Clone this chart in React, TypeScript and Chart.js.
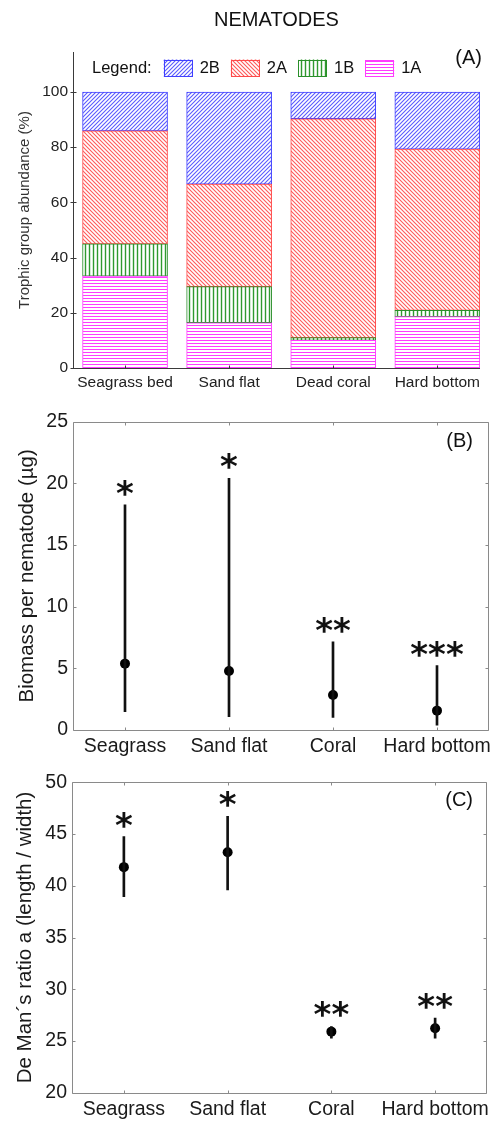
import React, { useEffect, useRef } from "react";
import { Chart, registerables } from "chart.js";

Chart.register(...registerables);

const FONT = "'Liberation Sans', Arial, Helvetica, sans-serif";
const STAR_FONT = "bold 34px 'DejaVu Sans', sans-serif";

// ---------- Panel A data ----------
const habitatsA = ["Seagrass bed", "Sand flat", "Dead coral", "Hard bottom"];
const group1A = [33.3, 16.4, 10.0, 18.6];
const group1B = [11.7, 13.1, 1.0, 2.3];
const group2A = [40.9, 37.1, 79.3, 58.4];
const group2B = [14.1, 33.4, 9.7, 20.7];
const percentTicks = [0, 20, 40, 60, 80, 100];

// ---------- Panel B data ----------
const habitatsBC = ["Seagrass", "Sand flat", "Coral", "Hard bottom"];
const biomassMean = [5.38, 4.78, 2.84, 1.57];
const biomassLow = [1.49, 1.08, 1.03, 0.4];
const biomassHigh = [18.25, 20.4, 7.14, 5.22];
const biomassStars = ["*", "*", "**", "***"];

// ---------- Panel C data ----------
const ratioMean = [41.8, 43.24, 25.9, 26.23];
const ratioLow = [38.95, 39.6, 25.26, 25.26];
const ratioHigh = [44.75, 46.7, 26.4, 27.2];
const ratioStars = ["*", "*", "**", "**"];

function makePattern(kind: string, color: string): CanvasPattern | string {
  const c = document.createElement("canvas");
  let w = 4, h = 4;
  if (kind === "h") { w = 4; h = 3; }
  c.width = w; c.height = h;
  const g = c.getContext("2d");
  if (!g) return color;
  g.fillStyle = "#ffffff";
  g.fillRect(0, 0, w, h);
  g.strokeStyle = color;
  g.beginPath();
  if (kind === "fwd") {
    g.lineWidth = 1.1;
    g.moveTo(-1, 5); g.lineTo(5, -1);
    g.moveTo(-1, 1); g.lineTo(1, -1);
    g.moveTo(3, 5); g.lineTo(5, 3);
  } else if (kind === "back") {
    g.lineWidth = 1.1;
    g.moveTo(-1, -1); g.lineTo(5, 5);
    g.moveTo(3, -1); g.lineTo(5, 1);
    g.moveTo(-1, 3); g.lineTo(1, 5);
  } else if (kind === "v") {
    g.lineWidth = 1.4;
    g.moveTo(1.5, 0); g.lineTo(1.5, h);
  } else {
    g.lineWidth = 1;
    g.moveTo(0, 1.5); g.lineTo(w, 1.5);
  }
  g.stroke();
  return g.createPattern(c, "repeat") || color;
}

const noScalePadding = (s: any, w?: number, h?: number) => {
  if (w !== undefined) s.width = w;
  if (h !== undefined) s.height = h;
  s.paddingLeft = 0;
  s.paddingRight = 0;
  s.paddingTop = 0;
  s.paddingBottom = 0;
};

const panelAPlugin = {
  id: "panelA",
  afterDraw(chart: any) {
    const { ctx, chartArea: a, scales } = chart;
    const left = Math.round(a.left) + 0.5;
    const bottom = Math.round(a.bottom) + 0.5;
    ctx.save();
    ctx.strokeStyle = "#3a3a3a";
    ctx.lineWidth = 1;
    ctx.beginPath();
    ctx.moveTo(left, a.top);
    ctx.lineTo(left, bottom);
    ctx.lineTo(a.right, bottom);
    scales.y.ticks.forEach((t: any) => {
      const py = Math.round(scales.y.getPixelForValue(t.value)) + 0.5;
      ctx.moveTo(left - 3, py);
      ctx.lineTo(left + 3, py);
    });
    scales.x.ticks.forEach((t: any) => {
      const px = Math.round(scales.x.getPixelForValue(t.value)) + 0.5;
      ctx.moveTo(px, bottom);
      ctx.lineTo(px, bottom - 3);
    });
    ctx.stroke();

    ctx.fillStyle = "#111";
    ctx.font = `20px ${FONT}`;
    ctx.textAlign = "center";
    ctx.textBaseline = "middle";
    ctx.fillText("NEMATODES", (a.left + a.right) / 2, 20);

    ctx.font = `20px ${FONT}`;
    ctx.textAlign = "right";
    ctx.fillText("(A)", a.right + 2, a.top + 6);

    ctx.font = `16.5px ${FONT}`;
    ctx.textAlign = "left";
    const cy = a.top + 16;
    let x = a.left + 19;
    ctx.fillText("Legend:", x, cy);
    x += ctx.measureText("Legend:").width + 12;
    const ds = chart.data.datasets;
    for (let i = ds.length - 1; i >= 0; i--) {
      const d = ds[i];
      ctx.fillStyle = d.backgroundColor;
      ctx.fillRect(x, cy - 8.5, 29, 17);
      ctx.strokeStyle = d.borderColor;
      ctx.lineWidth = 1;
      ctx.strokeRect(Math.round(x) + 0.5, Math.round(cy - 8.5) + 0.5, 28, 16);
      x += 29 + 7;
      ctx.fillStyle = "#111";
      ctx.fillText(d.label, x, cy);
      x += ctx.measureText(d.label).width + 11;
    }
    ctx.restore();
  },
};

function makeBoxPlugin(id: string, label: string, stars: string[], highs: number[], means: number[], labelDx: number, labelDy: number) {
  return {
    id,
    afterDraw(chart: any) {
      const { ctx, chartArea: a, scales } = chart;
      const l = Math.round(a.left) + 0.5;
      const r = Math.round(a.right) - 0.5;
      const t = Math.round(a.top) + 0.5;
      const b = Math.round(a.bottom) + 0.5;
      ctx.save();
      ctx.strokeStyle = "#8a8a8a";
      ctx.lineWidth = 1;
      ctx.beginPath();
      ctx.rect(l, t, r - l, b - t);
      scales.y.ticks.forEach((tk: any) => {
        const py = Math.round(scales.y.getPixelForValue(tk.value)) + 0.5;
        ctx.moveTo(l, py); ctx.lineTo(l + 3, py);
        ctx.moveTo(r, py); ctx.lineTo(r - 3, py);
      });
      scales.x.ticks.forEach((tk: any) => {
        const px = Math.round(scales.x.getPixelForValue(tk.value)) + 0.5;
        ctx.moveTo(px, b); ctx.lineTo(px, b - 3);
        ctx.moveTo(px, t); ctx.lineTo(px, t + 3);
      });
      ctx.stroke();

      ctx.fillStyle = "#111";
      ctx.font = `20px ${FONT}`;
      ctx.textAlign = "right";
      ctx.textBaseline = "middle";
      ctx.fillText(label, a.right - labelDx, a.top + labelDy);

      ctx.font = STAR_FONT;
      ctx.textAlign = "center";
      ctx.textBaseline = "alphabetic";
      stars.forEach((s, i) => {
        const px = scales.x.getPixelForValue(i + 1);
        const top = Math.min(scales.y.getPixelForValue(highs[i]), scales.y.getPixelForValue(means[i]) - 5);
        const cyStar = top - 17;
        const m = ctx.measureText(s);
        const base = cyStar + (m.actualBoundingBoxAscent - m.actualBoundingBoxDescent) / 2;
        ctx.fillText(s, px, base);
      });
      ctx.restore();
    },
  };
}

function chartA(canvas: HTMLCanvasElement) {
  const H = 395;
  const area = { left: 73, right: 480, top: 52, bottom: 368 };
  const mk = (label: string, vals: number[], pattern: any, border: string) => ({
    label,
    data: vals.map((v, i) => ({ x: i + 1, y: v })),
    backgroundColor: pattern,
    borderColor: border,
    borderWidth: 1,
    borderSkipped: false,
    barThickness: 85,
  });
  return new Chart(canvas, {
    type: "bar",
    data: {
      datasets: [
        mk("1A", group1A, makePattern("h", "#ff3cff"), "#ff3cff"),
        mk("1B", group1B, makePattern("v", "#2f9a2f"), "#2a8f2a"),
        mk("2A", group2A, makePattern("back", "#ff5a5a"), "#ff4a4a"),
        mk("2B", group2B, makePattern("fwd", "#5a5aff"), "#4040ff"),
      ] as any,
    },
    options: {
      responsive: false,
      animation: false,
      layout: { padding: { left: 0, right: 494 - area.right, top: area.top, bottom: 0 } },
      plugins: { legend: { display: false }, tooltip: { enabled: false } },
      scales: {
        x: {
          type: "linear",
          offset: false,
          min: 0.5,
          max: 4.41,
          stacked: true,
          grid: { display: false, drawTicks: false },
          border: { display: false },
          afterBuildTicks: (s: any) => { s.ticks = habitatsA.map((_, i) => ({ value: i + 1 })); },
          afterFit: (s: any) => noScalePadding(s, undefined, H - area.bottom),
          ticks: {
            autoSkip: false,
            maxRotation: 0,
            padding: 5,
            color: "#222",
            font: { family: FONT, size: 15.5 },
            callback: (v: any) => habitatsA[Math.round(Number(v)) - 1] ?? "",
          },
        },
        y: {
          min: 0,
          max: 114.5,
          stacked: true,
          grid: { display: false, drawTicks: false },
          border: { display: false },
          afterBuildTicks: (s: any) => { s.ticks = percentTicks.map((v) => ({ value: v })); },
          afterFit: (s: any) => noScalePadding(s, area.left),
          ticks: { padding: 5, color: "#222", font: { family: FONT, size: 15.5 } },
          title: {
            display: true,
            text: "Trophic group abundance (%)",
            color: "#333",
            font: { family: FONT, size: 15 },
            padding: { top: 16, bottom: 0 },
          },
        },
      },
    } as any,
    plugins: [panelAPlugin],
  });
}

function chartErr(
  canvas: HTMLCanvasElement,
  H: number,
  area: { left: number; right: number; top: number; bottom: number },
  means: number[],
  lows: number[],
  highs: number[],
  yMin: number,
  yMax: number,
  yTitle: string,
  titlePad: number,
  plugin: any
) {
  return new Chart(canvas, {
    type: "bar",
    data: {
      datasets: [
        {
          type: "bar",
          label: "range",
          data: lows.map((lo, i) => ({ x: i + 1, y: [lo, highs[i]] })),
          backgroundColor: "#111",
          borderWidth: 0,
          barThickness: 2,
        },
        {
          type: "scatter",
          label: "mean",
          data: means.map((m, i) => ({ x: i + 1, y: m })),
          pointRadius: 5,
          pointBackgroundColor: "#000",
          pointBorderWidth: 0,
          backgroundColor: "#000",
        },
      ] as any,
    },
    options: {
      responsive: false,
      animation: false,
      layout: { padding: { left: 0, right: 494 - area.right, top: area.top, bottom: 0 } },
      plugins: { legend: { display: false }, tooltip: { enabled: false } },
      scales: {
        x: {
          type: "linear",
          offset: false,
          min: 0.5,
          max: 4.5,
          grid: { display: false, drawTicks: false },
          border: { display: false },
          afterBuildTicks: (s: any) => { s.ticks = habitatsBC.map((_, i) => ({ value: i + 1 })); },
          afterFit: (s: any) => noScalePadding(s, undefined, H - area.bottom),
          ticks: {
            autoSkip: false,
            maxRotation: 0,
            padding: 5,
            color: "#1a1a1a",
            font: { family: FONT, size: 19.5 },
            callback: (v: any) => habitatsBC[Math.round(Number(v)) - 1] ?? "",
          },
        },
        y: {
          min: yMin,
          max: yMax,
          grid: { display: false, drawTicks: false },
          border: { display: false },
          afterFit: (s: any) => noScalePadding(s, area.left),
          ticks: { stepSize: 5, padding: 5, color: "#1a1a1a", font: { family: FONT, size: 19.5 } },
          title: {
            display: true,
            text: yTitle,
            color: "#1a1a1a",
            font: { family: FONT, size: 20.5 },
            padding: { top: titlePad, bottom: 0 },
          },
        },
      },
    } as any,
    plugins: [plugin],
  });
}

export default function App() {
  const refA = useRef<HTMLCanvasElement>(null);
  const refB = useRef<HTMLCanvasElement>(null);
  const refC = useRef<HTMLCanvasElement>(null);

  useEffect(() => {
    const charts: Chart[] = [];
    if (refA.current) charts.push(chartA(refA.current));
    if (refB.current)
      charts.push(
        chartErr(
          refB.current, 370, { left: 73, right: 489, top: 26.7, bottom: 335 },
          biomassMean, biomassLow, biomassHigh, 0, 25,
          "Biomass per nematode (\u00b5g)", 15.5,
          makeBoxPlugin("panelB", "(B)", biomassStars, biomassHigh, biomassMean, 16, 20)
        )
      );
    if (refC.current)
      charts.push(
        chartErr(
          refC.current, 356, { left: 72, right: 487, top: 17.3, bottom: 327.7 },
          ratioMean, ratioLow, ratioHigh, 20, 50,
          "De Man\u00b4s ratio a (length / width)", 13.5,
          makeBoxPlugin("panelC", "(C)", ratioStars, ratioHigh, ratioMean, 14, 18)
        )
      );
    return () => charts.forEach((c) => c.destroy());
  }, []);

  return (
    <div style={{ position: "absolute", left: 0, top: 0, width: 494, height: 1121, background: "#fff" }}>
      <canvas ref={refA} width={494} height={395} style={{ position: "absolute", left: 0, top: 0, width: 494, height: 395 }} />
      <canvas ref={refB} width={494} height={370} style={{ position: "absolute", left: 0, top: 395, width: 494, height: 370 }} />
      <canvas ref={refC} width={494} height={356} style={{ position: "absolute", left: 0, top: 765, width: 494, height: 356 }} />
    </div>
  );
}
